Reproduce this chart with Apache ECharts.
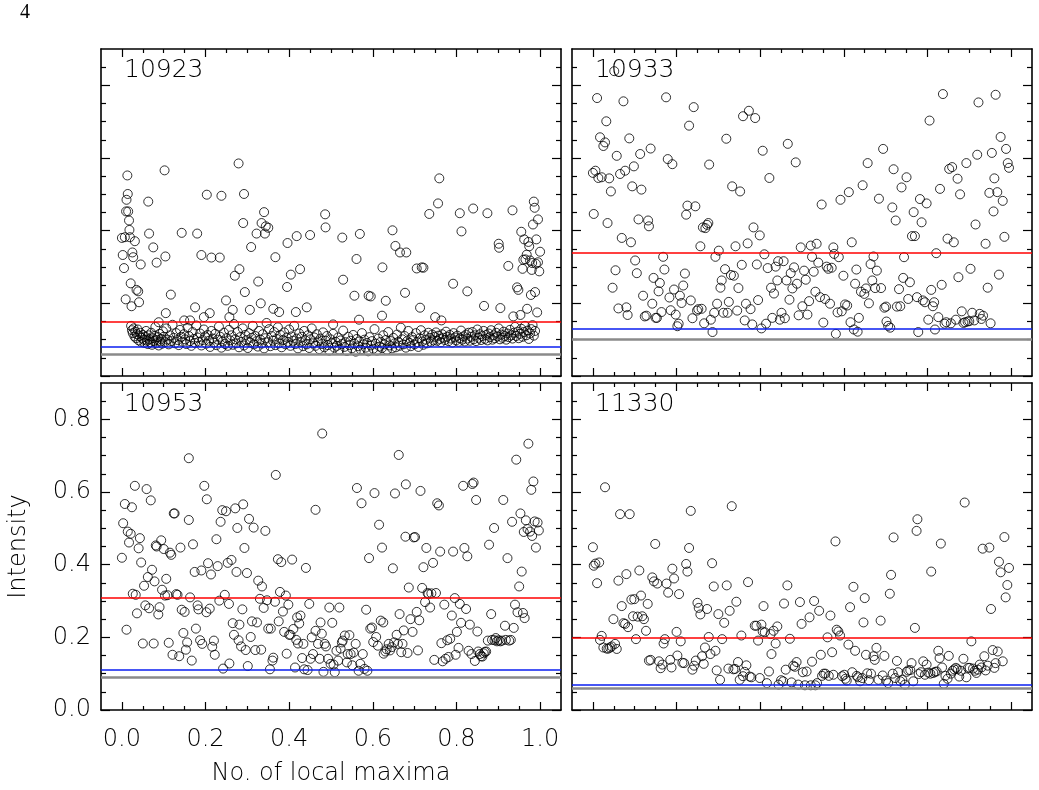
<!DOCTYPE html>
<html>
<head>
<meta charset="utf-8">
<title>Intensity vs No. of local maxima</title>
<script src="https://cdn.jsdelivr.net/npm/echarts@6/dist/echarts.min.js"></script>
<style>
  html, body { margin: 0; padding: 0; background: #fff; }
  #chart { width: 1039px; height: 790px; }
</style>
</head>
<body>
<div id="chart"></div>
<script>
// panel ids, in order: top-left, top-right, bottom-left, bottom-right
var panelNames = ["10923", "10933", "10953", "11330"];

// reference levels per panel
var redLevel = [0.150, 0.343, 0.308, 0.204];
var blueLevel = [0.082, 0.127, 0.111, 0.073];
var grayLevel = [0.064, 0.098, 0.085, 0.057];

// tick values
var majorTicksX = [0, 0.2, 0.4, 0.6, 0.8, 1.0];
var minorTicksX = [0.05, 0.1, 0.15, 0.25, 0.3, 0.35, 0.45, 0.5, 0.55, 0.65, 0.7, 0.75, 0.85, 0.9, 0.95];
var majorTicksY = [0, 0.2, 0.4, 0.6, 0.8];
var minorTicksY = [0.05, 0.1, 0.15, 0.25, 0.3, 0.35, 0.45, 0.5, 0.55, 0.65, 0.7, 0.75, 0.85];

// 10923 : scattered upper points + the dense band near the bottom
var pts10923 = [
  [0.000,0.380],[0.002,0.333],[0.005,0.297],[0.007,0.382],[0.009,0.211],[0.010,0.453],[0.011,0.485],[0.013,0.552],[0.014,0.501],[0.015,0.453],
  [0.017,0.428],[0.018,0.402],[0.019,0.382],[0.021,0.255],[0.023,0.192],[0.025,0.340],[0.027,0.327],[0.031,0.371],[0.035,0.237],[0.039,0.233],
  [0.041,0.203],[0.045,0.307],[0.063,0.480],[0.065,0.392],[0.075,0.354],[0.083,0.312],[0.088,0.148],[0.102,0.566],[0.104,0.329],[0.105,0.173],
  [0.117,0.224],[0.143,0.394],[0.149,0.153],[0.163,0.153],[0.175,0.189],[0.180,0.392],[0.190,0.333],[0.196,0.162],[0.203,0.499],[0.210,0.173],
  [0.214,0.326],[0.234,0.326],[0.238,0.496],[0.249,0.208],[0.257,0.162],[0.265,0.182],[0.270,0.276],[0.279,0.585],[0.281,0.294],[0.290,0.421],
  [0.292,0.501],[0.294,0.231],[0.306,0.182],[0.309,0.355],[0.322,0.392],[0.326,0.260],[0.332,0.200],[0.334,0.421],[0.340,0.451],[0.342,0.392],
  [0.344,0.412],[0.350,0.408],[0.362,0.185],[0.367,0.327],[0.376,0.176],[0.395,0.245],[0.396,0.366],[0.404,0.279],[0.416,0.176],[0.418,0.385],
  [0.426,0.294],[0.442,0.189],[0.450,0.388],[0.486,0.445],[0.487,0.409],[0.505,0.142],[0.527,0.381],[0.529,0.265],[0.556,0.221],[0.561,0.322],
  [0.567,0.155],[0.569,0.391],[0.590,0.221],[0.595,0.219],[0.622,0.166],[0.623,0.299],[0.631,0.207],[0.647,0.401],[0.654,0.358],[0.665,0.340],
  [0.677,0.229],[0.680,0.340],[0.705,0.296],[0.713,0.188],[0.717,0.299],[0.721,0.298],[0.735,0.446],[0.749,0.162],[0.756,0.475],[0.759,0.544],
  [0.764,0.153],[0.792,0.254],[0.808,0.448],[0.812,0.398],[0.826,0.233],[0.840,0.461],[0.866,0.193],[0.874,0.448],[0.905,0.187],[0.901,0.364],
  [0.902,0.353],[0.924,0.303],[0.934,0.456],[0.936,0.164],[0.945,0.244],[0.948,0.237],[0.953,0.168],[0.955,0.397],[0.958,0.295],[0.960,0.320],
  [0.962,0.376],[0.965,0.321],[0.968,0.334],[0.969,0.185],[0.972,0.369],[0.974,0.357],[0.976,0.318],[0.978,0.223],[0.980,0.292],[0.981,0.311],
  [0.983,0.417],[0.985,0.480],[0.987,0.463],[0.988,0.231],[0.990,0.309],[0.991,0.376],[0.993,0.175],[0.995,0.431],[0.998,0.288],[1.000,0.342],
  [0.995,0.313],
  [0.022,0.138],[0.024,0.126],[0.026,0.118],[0.028,0.131],[0.030,0.109],[0.032,0.122],[0.034,0.104],[0.036,0.115],[0.038,0.128],[0.040,0.098],
  [0.042,0.110],[0.044,0.119],[0.046,0.094],[0.048,0.105],[0.050,0.113],[0.052,0.100],[0.054,0.091],[0.056,0.108],[0.058,0.124],[0.060,0.097],
  [0.062,0.088],[0.064,0.112],[0.066,0.101],[0.068,0.093],[0.070,0.119],[0.072,0.086],[0.074,0.104],[0.076,0.096],[0.078,0.110],[0.080,0.135],
  [0.082,0.090],[0.084,0.099],[0.086,0.107],[0.088,0.084],[0.090,0.116],[0.092,0.095],[0.094,0.102],[0.096,0.089],[0.098,0.123],[0.100,0.108],
  [0.103,0.093],[0.106,0.131],[0.109,0.100],[0.112,0.087],[0.115,0.112],[0.118,0.096],[0.121,0.141],[0.124,0.105],[0.127,0.090],[0.130,0.118],
  [0.133,0.099],[0.136,0.085],[0.139,0.127],[0.142,0.108],[0.145,0.094],[0.148,0.115],[0.151,0.101],[0.154,0.088],[0.157,0.133],[0.160,0.110],
  [0.163,0.096],[0.166,0.083],[0.169,0.121],[0.172,0.102],[0.175,0.091],[0.178,0.139],[0.181,0.106],[0.184,0.094],[0.187,0.117],[0.190,0.084],
  [0.193,0.099],[0.196,0.128],[0.199,0.109],[0.202,0.089],[0.205,0.113],[0.208,0.097],[0.211,0.080],[0.214,0.124],[0.217,0.103],[0.220,0.092],
  [0.223,0.116],[0.226,0.085],[0.229,0.100],[0.232,0.136],[0.235,0.108],[0.238,0.078],[0.241,0.095],[0.244,0.119],[0.247,0.088],[0.250,0.104],
  [0.253,0.083],[0.256,0.127],[0.259,0.098],[0.262,0.112],[0.265,0.086],[0.268,0.143],[0.271,0.101],[0.274,0.090],[0.277,0.121],[0.280,0.079],
  [0.283,0.107],[0.286,0.094],[0.289,0.131],[0.292,0.084],[0.295,0.113],[0.298,0.099],[0.301,0.077],[0.304,0.118],[0.307,0.092],[0.310,0.105],
  [0.313,0.138],[0.316,0.087],[0.319,0.110],[0.322,0.096],[0.325,0.081],[0.328,0.124],[0.331,0.100],[0.334,0.089],[0.337,0.115],[0.340,0.076],
  [0.343,0.104],[0.346,0.146],[0.349,0.093],[0.352,0.129],[0.355,0.082],[0.358,0.110],[0.361,0.097],[0.364,0.121],[0.367,0.085],[0.370,0.102],
  [0.373,0.134],[0.376,0.090],[0.379,0.113],[0.382,0.079],[0.385,0.099],[0.388,0.120],[0.391,0.087],[0.394,0.106],[0.397,0.094],[0.400,0.128],
  [0.403,0.083],[0.406,0.109],[0.409,0.097],[0.412,0.138],[0.415,0.088],[0.418,0.103],[0.421,0.076],[0.424,0.117],[0.427,0.093],[0.430,0.108],
  [0.433,0.082],[0.436,0.124],[0.439,0.098],[0.442,0.087],[0.445,0.112],[0.448,0.077],[0.451,0.101],[0.454,0.131],[0.457,0.090],[0.460,0.106],
  [0.463,0.083],[0.466,0.115],[0.469,0.095],[0.472,0.074],[0.475,0.103],[0.478,0.088],[0.481,0.120],[0.484,0.079],[0.487,0.097],[0.490,0.110],
  [0.493,0.085],[0.496,0.070],[0.499,0.101],[0.502,0.090],[0.505,0.116],[0.508,0.078],[0.511,0.094],[0.514,0.083],[0.517,0.106],[0.520,0.072],
  [0.523,0.098],[0.526,0.088],[0.529,0.125],[0.532,0.080],[0.535,0.093],[0.538,0.069],[0.541,0.108],[0.544,0.085],[0.547,0.097],[0.550,0.076],
  [0.553,0.113],[0.556,0.089],[0.559,0.067],[0.562,0.102],[0.565,0.082],[0.568,0.095],[0.571,0.073],[0.574,0.118],[0.577,0.087],[0.580,0.100],
  [0.583,0.078],[0.586,0.091],[0.589,0.068],[0.592,0.107],[0.595,0.084],[0.598,0.096],[0.601,0.075],[0.604,0.129],[0.607,0.089],[0.610,0.070],
  [0.613,0.103],[0.616,0.081],[0.619,0.094],[0.622,0.077],[0.625,0.112],[0.628,0.087],[0.631,0.099],[0.634,0.072],[0.637,0.121],[0.640,0.084],
  [0.643,0.096],[0.646,0.076],[0.649,0.105],[0.652,0.090],[0.655,0.079],[0.658,0.114],[0.661,0.094],[0.664,0.083],[0.667,0.133],[0.670,0.101],
  [0.673,0.087],[0.676,0.110],[0.679,0.078],[0.682,0.096],[0.685,0.124],[0.688,0.091],[0.691,0.082],[0.694,0.107],[0.697,0.099],[0.700,0.087],
  [0.703,0.118],[0.706,0.093],[0.709,0.080],[0.712,0.104],[0.715,0.126],[0.718,0.095],[0.721,0.086],[0.724,0.112],[0.727,0.100],[0.730,0.090],
  [0.733,0.119],[0.736,0.105],[0.739,0.094],[0.742,0.114],[0.745,0.098],[0.748,0.108],[0.751,0.120],[0.754,0.097],[0.757,0.111],[0.760,0.102],
  [0.763,0.093],[0.766,0.115],[0.769,0.105],[0.772,0.099],[0.775,0.122],[0.778,0.108],[0.781,0.096],[0.784,0.113],[0.787,0.103],[0.790,0.092],
  [0.793,0.118],[0.796,0.106],[0.799,0.098],[0.802,0.111],[0.805,0.094],[0.808,0.104],[0.811,0.125],[0.814,0.100],[0.817,0.109],[0.820,0.095],
  [0.823,0.114],[0.826,0.103],[0.829,0.119],[0.832,0.097],[0.835,0.108],[0.838,0.121],[0.841,0.101],[0.844,0.112],[0.847,0.096],[0.850,0.128],
  [0.853,0.105],[0.856,0.115],[0.859,0.099],[0.862,0.110],[0.865,0.124],[0.868,0.102],[0.871,0.113],[0.874,0.098],[0.877,0.117],[0.880,0.107],
  [0.883,0.126],[0.886,0.100],[0.889,0.112],[0.892,0.104],[0.895,0.119],[0.898,0.109],[0.901,0.131],[0.904,0.101],[0.907,0.114],[0.910,0.105],
  [0.913,0.122],[0.916,0.110],[0.919,0.100],[0.922,0.117],[0.925,0.107],[0.928,0.127],[0.931,0.112],[0.934,0.103],[0.937,0.119],[0.940,0.135],
  [0.943,0.110],[0.946,0.122],[0.949,0.104],[0.952,0.116],[0.955,0.130],[0.958,0.108],[0.961,0.121],[0.964,0.138],[0.967,0.112],[0.970,0.125],
  [0.973,0.102],[0.976,0.117],[0.979,0.129],[0.982,0.140],[0.985,0.111],[0.988,0.124]
];

var pts10933 = [
  [0.010,0.765],[0.000,0.559],[0.006,0.565],[0.013,0.545],[0.021,0.547],[0.002,0.446],[0.017,0.657],[0.025,0.633],[0.029,0.643],[0.032,0.701],
  [0.035,0.421],[0.039,0.544],[0.043,0.508],[0.047,0.243],[0.051,0.839],[0.054,0.291],[0.057,0.606],[0.061,0.186],[0.065,0.556],[0.069,0.380],
  [0.073,0.756],[0.077,0.565],[0.080,0.189],[0.083,0.168],[0.087,0.654],[0.091,0.368],[0.094,0.522],[0.098,0.577],[0.101,0.318],[0.105,0.283],
  [0.109,0.431],[0.113,0.611],[0.116,0.513],[0.120,0.221],[0.124,0.164],[0.128,0.166],[0.132,0.428],[0.134,0.412],[0.138,0.626],[0.142,0.199],
  [0.145,0.270],[0.150,0.160],[0.153,0.160],[0.157,0.233],[0.160,0.256],[0.164,0.176],[0.168,0.328],[0.171,0.293],[0.175,0.767],[0.179,0.597],
  [0.183,0.216],[0.186,0.181],[0.190,0.583],[0.194,0.238],[0.198,0.169],[0.202,0.137],[0.205,0.144],[0.208,0.221],[0.212,0.201],[0.216,0.249],
  [0.220,0.282],[0.223,0.444],[0.226,0.469],[0.230,0.689],[0.234,0.208],[0.238,0.159],[0.241,0.740],[0.245,0.467],[0.249,0.180],[0.252,0.184],
  [0.257,0.357],[0.260,0.185],[0.263,0.409],[0.266,0.145],[0.269,0.407],[0.273,0.416],[0.276,0.421],[0.278,0.582],[0.282,0.155],[0.286,0.121],
  [0.290,0.174],[0.293,0.328],[0.297,0.199],[0.301,0.345],[0.305,0.243],[0.308,0.263],[0.312,0.174],[0.316,0.294],[0.319,0.653],[0.322,0.174],
  [0.325,0.204],[0.330,0.278],[0.333,0.522],[0.337,0.276],[0.341,0.357],[0.345,0.180],[0.348,0.242],[0.352,0.508],[0.356,0.306],[0.359,0.715],
  [0.363,0.153],[0.366,0.199],[0.370,0.365],[0.373,0.730],[0.377,0.184],[0.381,0.142],[0.384,0.409],[0.388,0.710],[0.392,0.307],[0.395,0.209],
  [0.399,0.387],[0.403,0.131],[0.406,0.620],[0.410,0.335],[0.414,0.144],[0.418,0.297],[0.422,0.545],[0.426,0.243],[0.429,0.160],[0.433,0.227],
  [0.437,0.301],[0.441,0.263],[0.443,0.316],[0.447,0.155],[0.451,0.174],[0.456,0.316],[0.459,0.159],[0.463,0.263],[0.466,0.639],[0.470,0.210],
  [0.473,0.283],[0.477,0.241],[0.481,0.299],[0.485,0.588],[0.488,0.254],[0.492,0.167],[0.497,0.354],[0.501,0.192],[0.505,0.290],[0.509,0.265],
  [0.513,0.169],[0.517,0.206],[0.521,0.359],[0.524,0.328],[0.528,0.287],[0.532,0.232],[0.535,0.364],[0.539,0.312],[0.543,0.217],[0.547,0.472],
  [0.551,0.147],[0.555,0.212],[0.559,0.301],[0.563,0.295],[0.567,0.199],[0.571,0.298],[0.575,0.354],[0.577,0.336],[0.581,0.116],[0.585,0.175],
  [0.588,0.327],[0.592,0.485],[0.595,0.178],[0.599,0.276],[0.603,0.197],[0.608,0.194],[0.612,0.506],[0.616,0.148],[0.619,0.368],[0.624,0.128],
  [0.627,0.254],[0.630,0.293],[0.633,0.122],[0.636,0.160],[0.641,0.232],[0.645,0.525],[0.649,0.226],[0.653,0.241],[0.657,0.586],[0.660,0.200],
  [0.664,0.308],[0.668,0.263],[0.671,0.329],[0.675,0.242],[0.679,0.290],[0.684,0.488],[0.689,0.242],[0.694,0.625],[0.697,0.188],[0.701,0.191],
  [0.702,0.150],[0.706,0.138],[0.711,0.133],[0.716,0.464],[0.719,0.569],[0.724,0.428],[0.727,0.191],[0.732,0.239],[0.735,0.192],[0.738,0.519],
  [0.742,0.270],[0.744,0.327],[0.750,0.547],[0.754,0.212],[0.758,0.258],[0.763,0.385],[0.767,0.451],[0.770,0.385],[0.775,0.217],[0.778,0.121],
  [0.782,0.487],[0.786,0.423],[0.789,0.208],[0.794,0.203],[0.798,0.475],[0.802,0.155],[0.805,0.703],[0.809,0.237],[0.813,0.192],[0.816,0.203],
  [0.818,0.128],[0.821,0.338],[0.826,0.162],[0.830,0.515],[0.834,0.251],[0.837,0.776],[0.841,0.144],[0.845,0.148],[0.848,0.378],[0.852,0.570],
  [0.856,0.145],[0.859,0.575],[0.863,0.368],[0.868,0.155],[0.872,0.543],[0.874,0.272],[0.878,0.500],[0.882,0.178],[0.886,0.146],[0.890,0.148],
  [0.893,0.586],[0.896,0.150],[0.900,0.151],[0.903,0.295],[0.907,0.174],[0.912,0.153],[0.915,0.417],[0.919,0.609],[0.922,0.753],[0.925,0.171],
  [0.929,0.157],[0.933,0.166],[0.939,0.364],[0.944,0.243],[0.948,0.504],[0.951,0.145],[0.954,0.614],[0.958,0.453],[0.960,0.544],[0.963,0.774],
  [0.967,0.506],[0.971,0.279],[0.975,0.658],[0.980,0.482],[0.984,0.383],[0.988,0.625],[0.992,0.586],[0.995,0.573]
];

var pts10953 = [
  [0.000,0.419],[0.003,0.514],[0.007,0.567],[0.011,0.221],[0.014,0.491],[0.017,0.461],[0.021,0.485],[0.024,0.558],[0.026,0.320],[0.031,0.617],
  [0.033,0.317],[0.036,0.266],[0.040,0.445],[0.043,0.473],[0.046,0.406],[0.050,0.183],[0.053,0.342],[0.056,0.288],[0.059,0.608],[0.062,0.366],
  [0.065,0.280],[0.069,0.577],[0.072,0.386],[0.076,0.183],[0.078,0.354],[0.081,0.453],[0.083,0.450],[0.087,0.263],[0.090,0.283],[0.094,0.467],
  [0.096,0.331],[0.100,0.443],[0.103,0.315],[0.106,0.361],[0.109,0.316],[0.112,0.185],[0.115,0.433],[0.118,0.427],[0.121,0.152],[0.124,0.541],
  [0.126,0.541],[0.130,0.319],[0.133,0.317],[0.137,0.148],[0.140,0.447],[0.143,0.276],[0.147,0.212],[0.150,0.270],[0.153,0.166],[0.156,0.186],
  [0.160,0.523],[0.160,0.693],[0.163,0.310],[0.167,0.136],[0.170,0.456],[0.174,0.380],[0.177,0.224],[0.181,0.288],[0.183,0.277],[0.187,0.192],
  [0.190,0.384],[0.192,0.182],[0.197,0.617],[0.202,0.269],[0.203,0.580],[0.206,0.404],[0.210,0.279],[0.213,0.373],[0.216,0.174],[0.220,0.191],
  [0.222,0.152],[0.226,0.470],[0.229,0.396],[0.233,0.301],[0.236,0.518],[0.240,0.550],[0.242,0.114],[0.246,0.317],[0.249,0.547],[0.253,0.405],
  [0.256,0.292],[0.257,0.128],[0.262,0.413],[0.265,0.239],[0.268,0.207],[0.271,0.555],[0.274,0.380],[0.276,0.501],[0.279,0.192],[0.281,0.235],
  [0.285,0.175],[0.288,0.277],[0.290,0.566],[0.293,0.446],[0.296,0.165],[0.299,0.377],[0.301,0.121],[0.304,0.526],[0.308,0.201],[0.311,0.244],
  [0.315,0.502],[0.319,0.165],[0.323,0.241],[0.326,0.356],[0.330,0.306],[0.333,0.166],[0.335,0.340],[0.339,0.281],[0.343,0.493],[0.347,0.302],
  [0.350,0.224],[0.354,0.112],[0.356,0.224],[0.360,0.136],[0.362,0.144],[0.366,0.298],[0.368,0.647],[0.373,0.415],[0.375,0.244],[0.378,0.325],
  [0.381,0.407],[0.385,0.271],[0.388,0.215],[0.392,0.315],[0.394,0.155],[0.398,0.290],[0.400,0.207],[0.403,0.207],[0.407,0.414],[0.410,0.223],
  [0.414,0.117],[0.417,0.193],[0.419,0.255],[0.421,0.183],[0.424,0.238],[0.427,0.260],[0.431,0.143],[0.434,0.182],[0.436,0.112],[0.440,0.391],
  [0.444,0.110],[0.448,0.292],[0.451,0.141],[0.454,0.200],[0.457,0.154],[0.463,0.551],[0.463,0.218],[0.469,0.182],[0.473,0.141],[0.475,0.241],
  [0.478,0.210],[0.479,0.761],[0.482,0.105],[0.485,0.182],[0.488,0.175],[0.493,0.141],[0.496,0.282],[0.499,0.127],[0.503,0.240],[0.506,0.125],
  [0.509,0.104],[0.513,0.163],[0.517,0.136],[0.520,0.282],[0.523,0.169],[0.526,0.186],[0.528,0.191],[0.533,0.205],[0.538,0.131],[0.540,0.154],
  [0.544,0.206],[0.547,0.154],[0.551,0.123],[0.554,0.158],[0.559,0.182],[0.562,0.611],[0.566,0.108],[0.570,0.127],[0.573,0.569],[0.576,0.154],
  [0.580,0.113],[0.584,0.276],[0.587,0.108],[0.591,0.418],[0.594,0.224],[0.598,0.227],[0.601,0.187],[0.604,0.597],[0.608,0.201],[0.612,0.177],
  [0.615,0.510],[0.619,0.246],[0.622,0.447],[0.625,0.241],[0.626,0.155],[0.630,0.161],[0.633,0.167],[0.638,0.182],[0.641,0.164],[0.645,0.173],
  [0.648,0.390],[0.651,0.186],[0.653,0.596],[0.657,0.207],[0.660,0.182],[0.662,0.702],[0.664,0.264],[0.668,0.159],[0.671,0.182],[0.674,0.219],
  [0.678,0.477],[0.679,0.621],[0.683,0.157],[0.686,0.337],[0.690,0.250],[0.695,0.215],[0.698,0.475],[0.701,0.476],[0.705,0.270],[0.708,0.164],
  [0.711,0.247],[0.714,0.603],[0.718,0.336],[0.721,0.393],[0.725,0.297],[0.728,0.446],[0.731,0.322],[0.733,0.319],[0.737,0.282],[0.740,0.321],
  [0.744,0.405],[0.747,0.138],[0.751,0.322],[0.754,0.569],[0.758,0.563],[0.761,0.436],[0.764,0.184],[0.767,0.134],[0.771,0.290],[0.774,0.141],
  [0.778,0.192],[0.781,0.146],[0.785,0.196],[0.789,0.260],[0.792,0.436],[0.796,0.308],[0.798,0.152],[0.801,0.215],[0.805,0.171],[0.808,0.292],
  [0.811,0.240],[0.816,0.617],[0.819,0.446],[0.823,0.278],[0.826,0.423],[0.829,0.163],[0.832,0.235],[0.836,0.154],[0.838,0.622],[0.841,0.626],
  [0.844,0.135],[0.847,0.578],[0.850,0.216],[0.852,0.161],[0.856,0.154],[0.859,0.148],[0.862,0.147],[0.865,0.156],[0.868,0.160],[0.871,0.161],
  [0.875,0.191],[0.878,0.455],[0.883,0.264],[0.885,0.193],[0.890,0.501],[0.891,0.192],[0.894,0.198],[0.897,0.189],[0.901,0.192],[0.905,0.189],
  [0.909,0.191],[0.912,0.578],[0.916,0.232],[0.918,0.193],[0.922,0.418],[0.926,0.191],[0.930,0.193],[0.933,0.518],[0.937,0.226],[0.940,0.290],
  [0.943,0.689],[0.946,0.269],[0.950,0.340],[0.953,0.541],[0.956,0.381],[0.959,0.267],[0.961,0.490],[0.963,0.253],[0.966,0.522],[0.970,0.498],
  [0.972,0.733],[0.976,0.491],[0.979,0.606],[0.981,0.479],[0.984,0.629],[0.987,0.519],[0.990,0.447],[0.994,0.516],[0.997,0.494]
];

var pts11330 = [
  [0.000,0.448],[0.002,0.397],[0.006,0.403],[0.010,0.349],[0.015,0.406],[0.021,0.204],[0.017,0.193],[0.025,0.172],[0.029,0.613],[0.033,0.169],
  [0.037,0.169],[0.041,0.172],[0.045,0.175],[0.049,0.250],[0.053,0.182],[0.057,0.168],[0.061,0.356],[0.065,0.539],[0.069,0.286],[0.073,0.239],
  [0.077,0.237],[0.080,0.374],[0.084,0.228],[0.088,0.539],[0.092,0.304],[0.096,0.258],[0.099,0.305],[0.103,0.195],[0.107,0.257],[0.111,0.384],
  [0.115,0.315],[0.118,0.258],[0.122,0.250],[0.127,0.218],[0.131,0.292],[0.134,0.136],[0.138,0.138],[0.142,0.365],[0.146,0.354],[0.149,0.457],
  [0.154,0.348],[0.158,0.134],[0.162,0.115],[0.166,0.125],[0.169,0.183],[0.172,0.195],[0.176,0.348],[0.180,0.323],[0.185,0.138],[0.188,0.117],
  [0.190,0.389],[0.194,0.362],[0.200,0.215],[0.202,0.150],[0.206,0.319],[0.210,0.189],[0.214,0.130],[0.218,0.129],[0.223,0.402],[0.226,0.381],
  [0.230,0.446],[0.234,0.548],[0.238,0.111],[0.242,0.122],[0.246,0.136],[0.250,0.295],[0.253,0.281],[0.257,0.263],[0.261,0.148],[0.265,0.127],
  [0.268,0.172],[0.273,0.278],[0.277,0.201],[0.281,0.154],[0.285,0.404],[0.289,0.340],[0.293,0.163],[0.296,0.109],[0.300,0.264],[0.304,0.083],
  [0.309,0.195],[0.314,0.240],[0.320,0.343],[0.324,0.114],[0.327,0.273],[0.332,0.561],[0.336,0.112],[0.340,0.113],[0.343,0.298],[0.347,0.132],
  [0.351,0.083],[0.355,0.205],[0.359,0.093],[0.363,0.105],[0.367,0.123],[0.371,0.352],[0.375,0.092],[0.379,0.090],[0.387,0.232],[0.391,0.232],
  [0.395,0.191],[0.399,0.088],[0.403,0.235],[0.406,0.216],[0.408,0.286],[0.411,0.214],[0.416,0.074],[0.421,0.106],[0.425,0.209],[0.427,0.154],
  [0.432,0.218],[0.437,0.183],[0.441,0.230],[0.444,0.070],[0.450,0.082],[0.455,0.079],[0.457,0.293],[0.461,0.111],[0.465,0.343],[0.471,0.196],
  [0.475,0.076],[0.479,0.122],[0.483,0.119],[0.487,0.132],[0.491,0.070],[0.495,0.297],[0.499,0.237],[0.502,0.104],[0.507,0.068],[0.511,0.106],
  [0.518,0.255],[0.521,0.068],[0.524,0.133],[0.529,0.300],[0.532,0.068],[0.536,0.074],[0.541,0.273],[0.545,0.152],[0.548,0.094],[0.552,0.100],
  [0.556,0.100],[0.561,0.200],[0.564,0.094],[0.568,0.260],[0.572,0.159],[0.575,0.097],[0.580,0.464],[0.583,0.221],[0.587,0.216],[0.591,0.205],
  [0.596,0.093],[0.601,0.097],[0.604,0.086],[0.607,0.081],[0.611,0.180],[0.615,0.283],[0.620,0.104],[0.623,0.339],[0.627,0.163],[0.631,0.094],
  [0.634,0.090],[0.639,0.079],[0.644,0.088],[0.647,0.241],[0.650,0.308],[0.653,0.152],[0.656,0.101],[0.660,0.082],[0.665,0.100],[0.671,0.148],
  [0.674,0.138],[0.678,0.171],[0.683,0.083],[0.688,0.246],[0.693,0.095],[0.697,0.149],[0.701,0.081],[0.706,0.074],[0.710,0.320],[0.713,0.372],
  [0.717,0.100],[0.719,0.475],[0.723,0.088],[0.727,0.135],[0.730,0.104],[0.735,0.079],[0.740,0.083],[0.746,0.070],[0.750,0.105],[0.754,0.109],
  [0.759,0.110],[0.762,0.129],[0.766,0.079],[0.770,0.226],[0.774,0.493],[0.776,0.525],[0.779,0.099],[0.784,0.104],[0.790,0.134],[0.794,0.097],
  [0.798,0.125],[0.802,0.103],[0.807,0.100],[0.809,0.381],[0.814,0.102],[0.818,0.105],[0.822,0.106],[0.826,0.163],[0.829,0.143],[0.832,0.458],
  [0.835,0.117],[0.839,0.072],[0.843,0.094],[0.848,0.086],[0.851,0.149],[0.856,0.100],[0.860,0.108],[0.864,0.112],[0.868,0.116],[0.872,0.112],
  [0.876,0.092],[0.880,0.108],[0.886,0.141],[0.889,0.571],[0.893,0.090],[0.897,0.116],[0.901,0.116],[0.905,0.189],[0.909,0.114],[0.913,0.108],
  [0.917,0.102],[0.921,0.111],[0.925,0.125],[0.929,0.117],[0.932,0.444],[0.936,0.148],[0.939,0.109],[0.944,0.122],[0.948,0.447],[0.952,0.278],
  [0.956,0.165],[0.960,0.116],[0.963,0.129],[0.968,0.161],[0.971,0.408],[0.975,0.379],[0.980,0.134],[0.984,0.476],[0.987,0.310],[0.991,0.344],
  [0.995,0.391]
];

var panelPoints = [pts10923, pts10933, pts10953, pts11330];

var chart = echarts.init(document.getElementById("chart"));

var gridPos = [[101, 49], [572, 49], [101, 383], [572, 383]];
var labelFont = "DejaVu Sans";

function fmt(v) { return v.toFixed(1); }

function makeAxis(isX, g, pos, ticks, len, showLine, showLabel) {
  var a = {
    type: "value",
    gridIndex: g,
    position: pos,
    min: isX ? -0.05 : 0,
    max: isX ? 1.05 : 0.9,
    axisLine: { show: showLine, onZero: false, lineStyle: { color: "#000", width: 1.6 } },
    axisTick: { show: true, inside: true, length: len, customValues: ticks, lineStyle: { color: "#000", width: 1.2 } },
    axisLabel: {
      show: showLabel,
      customValues: isX ? majorTicksX : majorTicksY,
      formatter: fmt,
      color: "#000",
      fontFamily: labelFont,
      fontWeight: 200,
      fontSize: 24,
      margin: isX ? 18 : 10
    },
    splitLine: { show: false }
  };
  return a;
}

var grids = [], xAxes = [], yAxes = [], series = [], texts = [];

gridPos.forEach(function (p, g) {
  grids.push({ left: p[0], top: p[1], width: 460, height: 327, containLabel: false });
  var lab = g === 2;
  var xb = makeAxis(true, g, "bottom", majorTicksX, 8, true, lab);
  if (lab) {
    xb.name = "No. of local maxima";
    xb.nameLocation = "middle";
    xb.nameGap = 52;
    xb.nameTextStyle = { color: "#000", fontFamily: labelFont, fontWeight: 200, fontSize: 24 };
  }
  xAxes.push(xb);
  xAxes.push(makeAxis(true, g, "bottom", minorTicksX, 4, false, false));
  xAxes.push(makeAxis(true, g, "top", majorTicksX, 8, true, false));
  xAxes.push(makeAxis(true, g, "top", minorTicksX, 4, false, false));

  var yl = makeAxis(false, g, "left", majorTicksY, 9, true, lab);
  if (lab) {
    yl.name = "Intensity";
    yl.nameLocation = "middle";
    yl.nameGap = 70;
    yl.nameTextStyle = { color: "#000", fontFamily: labelFont, fontWeight: 200, fontSize: 24 };
  }
  yAxes.push(yl);
  yAxes.push(makeAxis(false, g, "left", minorTicksY, 5, false, false));
  yAxes.push(makeAxis(false, g, "right", majorTicksY, 9, true, false));
  yAxes.push(makeAxis(false, g, "right", minorTicksY, 5, false, false));

  series.push({
    name: panelNames[g],
    type: "scatter",
    xAxisIndex: g * 4,
    yAxisIndex: g * 4,
    data: panelPoints[g],
    symbol: "circle",
    symbolSize: 9,
    itemStyle: { color: "rgba(0,0,0,0)", borderColor: "#000", borderWidth: 1 },
    silent: true,
    markLine: {
      silent: true,
      symbol: "none",
      label: { show: false },
      data: [
        { yAxis: grayLevel[g], lineStyle: { color: "#8a8a8a", width: 2.5, type: "solid" } },
        { yAxis: blueLevel[g], lineStyle: { color: "#0a1ef0", width: 1.5, type: "solid" } },
        { yAxis: redLevel[g], lineStyle: { color: "#ff0000", width: 1.5, type: "solid" } }
      ]
    }
  });

  texts.push({
    type: "text",
    left: p[0] + 23,
    top: p[1] + 9,
    style: { text: panelNames[g], fill: "#000", fontFamily: labelFont, fontWeight: 200, fontSize: 25 }
  });
});

// page number
texts.push({
  type: "text",
  left: 20,
  top: 3,
  style: { text: "4", fill: "#000", font: "normal 20px \"Liberation Serif\", \"DejaVu Serif\", serif" }
});

chart.setOption({
  animation: false,
  backgroundColor: "#fff",
  grid: grids,
  xAxis: xAxes,
  yAxis: yAxes,
  series: series,
  graphic: texts
});

window.addEventListener("resize", function () {
  chart.resize();
});
</script>
</body>
</html>
